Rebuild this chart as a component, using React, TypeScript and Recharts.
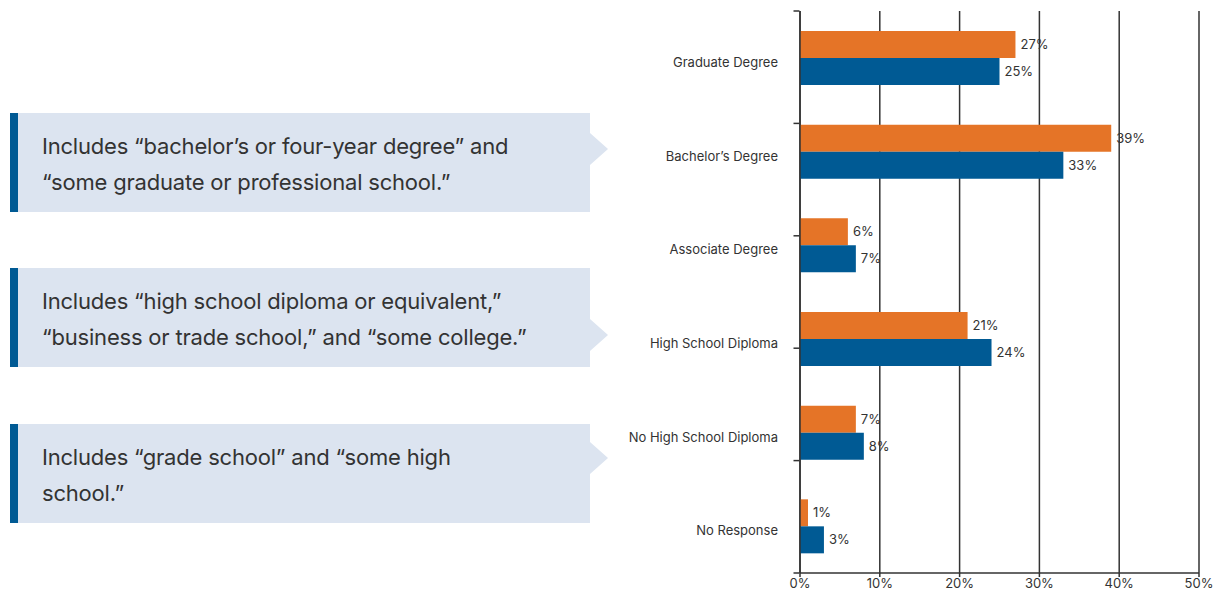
import React from 'react';
import { BarChart, Bar, XAxis, YAxis, CartesianGrid, LabelList } from 'recharts';

const categories = [
  'Graduate Degree',
  'Bachelor’s Degree',
  'Associate Degree',
  'High School Diploma',
  'No High School Diploma',
  'No Response',
];
const orangeValues = [27, 39, 6, 21, 7, 1];
const blueValues = [25, 33, 7, 24, 8, 3];
const xTicks = [0, 10, 20, 30, 40, 50];
const bandEdges = [0, 1, 2, 3, 4, 5, 6];

const callouts = [
  { top: 113, arrow: 20, lines: ['Includes “bachelor’s or four-year degree” and', '“some graduate or professional school.”'] },
  { top: 268, arrow: 51, lines: ['Includes “high school diploma or equivalent,”', '“business or trade school,” and “some college.”'] },
  { top: 424, arrow: 18, lines: ['Includes “grade school” and “some high', 'school.”'] },
];

const ORANGE = '#E57427';
const BLUE = '#005A94';
const INK = '#333333';
const FONT = 'Inter, "Noto Sans", sans-serif';

const data = categories.map((name, i) => ({
  name,
  orange: orangeValues[i],
  blue: blueValues[i],
}));

const Callout = ({ top, arrow, lines }: { top: number; arrow: number; lines: string[] }) => (
  <div style={{ position: 'absolute', left: 10, top, width: 600, height: 100 }}>
    <div
      style={{
        position: 'absolute',
        left: 0,
        top: 0,
        width: 580,
        height: 99,
        background: '#DCE4F0',
        borderLeft: `8px solid ${BLUE}`,
        boxSizing: 'border-box',
      }}
    />
    <svg style={{ position: 'absolute', left: 580, top: arrow }} width={20} height={34}>
      <polygon points="0,0 18,16 0,32" fill="#DCE4F0" />
    </svg>
    <div
      style={{
        position: 'absolute',
        left: 32,
        top: 15,
        fontFamily: FONT,
        fontSize: 22,
        letterSpacing: '-0.2px',
        lineHeight: '36px',
        color: INK,
        whiteSpace: 'nowrap',
      }}
    >
      {lines.map((l, i) => (
        <div key={i}>{l}</div>
      ))}
    </div>
  </div>
);

const EmptyTick = () => <g />;

// category label drawn as a single line (the axis itself is only 0.5px wide)
const CategoryTick = (props: any) => {
  const { x, y, payload } = props;
  return (
    <text x={x - 1} y={y} dy={9} textAnchor="end" fill={INK} fontSize={13} fontFamily={FONT}>
      {payload.value}
    </text>
  );
};

export default function App() {
  return (
    <div style={{ position: 'absolute', left: 0, top: 0, width: 1223, height: 594, background: '#fff' }}>
      {callouts.map((c, i) => (
        <Callout key={i} {...c} />
      ))}
      <div style={{ position: 'absolute', left: 0, top: 0 }}>
        <BarChart
          width={1223}
          height={594}
          data={data}
          layout="vertical"
          margin={{ top: 11, right: 24, bottom: 0, left: 620 }}
          barGap={0}
          barSize={27}
        >
          <CartesianGrid horizontal={false} vertical stroke={INK} strokeWidth={1.5} />
          <XAxis
            type="number"
            domain={[0, 50]}
            ticks={xTicks}
            tickFormatter={(v) => `${v}%`}
            height={21}
            tickSize={4}
            tickMargin={2}
            axisLine={{ stroke: INK, strokeWidth: 1.5 }}
            tickLine={{ stroke: INK, strokeWidth: 1.5 }}
            tick={{ fill: INK, fontSize: 13, fontFamily: FONT }}
            interval={0}
          />
          <YAxis
            yAxisId="edges"
            type="number"
            domain={[0, 6]}
            ticks={bandEdges}
            width={179.5}
            tickSize={6}
            tick={EmptyTick}
            axisLine={false}
            tickLine={{ stroke: INK, strokeWidth: 1.5 }}
            interval={0}
            allowDataOverflow
          />
          <YAxis
            type="category"
            dataKey="name"
            width={0.5}
            tickSize={0}
            tickMargin={21}
            tickLine={false}
            axisLine={{ stroke: INK, strokeWidth: 1.5 }}
            tick={CategoryTick}
            interval={0}
          />
          <Bar dataKey="orange" fill={ORANGE} isAnimationActive={false}>
            <LabelList
              dataKey="orange"
              position="right"
              offset={5}
              formatter={(v: number) => `${v}%`}
              style={{ fill: INK, fontSize: 13, fontFamily: FONT }}
            />
          </Bar>
          <Bar dataKey="blue" fill={BLUE} isAnimationActive={false}>
            <LabelList
              dataKey="blue"
              position="right"
              offset={5}
              formatter={(v: number) => `${v}%`}
              style={{ fill: INK, fontSize: 13, fontFamily: FONT }}
            />
          </Bar>
        </BarChart>
      </div>
    </div>
  );
}
